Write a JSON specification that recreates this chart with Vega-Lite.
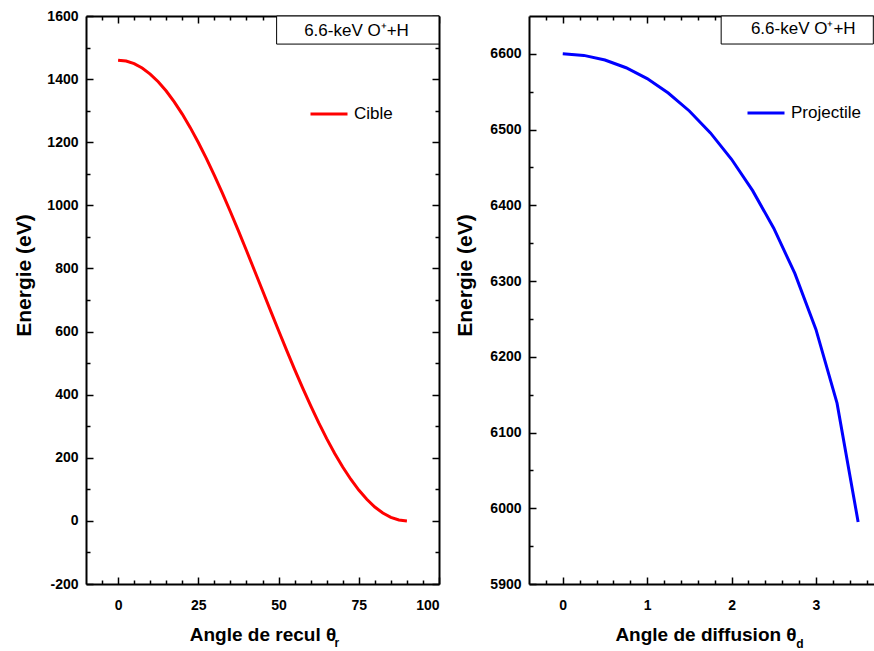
{
  "$schema": "https://vega.github.io/schema/vega-lite/v6.json",
  "padding": {"left": 13, "top": 9, "right": 0, "bottom": 0},
  "spacing": 90,
  "bounds": "flush",
  "background": "white",
  "config": {
    "view": {"stroke": null},
    "font": "Liberation Sans",
    "axis": {
      "grid": false,
      "domainColor": "black",
      "domainWidth": 2,
      "tickColor": "black",
      "tickWidth": 1.5,
      "labelFont": "Liberation Sans",
      "labelFontWeight": "bold",
      "labelFontSize": 14,
      "labelColor": "black",
      "titleFont": "Liberation Sans",
      "titleFontWeight": "bold",
      "titleFontSize": 19,
      "titleColor": "black"
    }
  },
  "datasets": {
    "cible": [
      {"angle": 0, "energie": 1460.0, "serie": "Cible"},
      {"angle": 2.5, "energie": 1457.2, "serie": "Cible"},
      {"angle": 5, "energie": 1448.9, "serie": "Cible"},
      {"angle": 7.5, "energie": 1435.1, "serie": "Cible"},
      {"angle": 10, "energie": 1416.0, "serie": "Cible"},
      {"angle": 12.5, "energie": 1391.6, "serie": "Cible"},
      {"angle": 15, "energie": 1362.2, "serie": "Cible"},
      {"angle": 17.5, "energie": 1328.0, "serie": "Cible"},
      {"angle": 20, "energie": 1289.2, "serie": "Cible"},
      {"angle": 22.5, "energie": 1246.2, "serie": "Cible"},
      {"angle": 25, "energie": 1199.2, "serie": "Cible"},
      {"angle": 27.5, "energie": 1148.7, "serie": "Cible"},
      {"angle": 30, "energie": 1095.0, "serie": "Cible"},
      {"angle": 32.5, "energie": 1038.5, "serie": "Cible"},
      {"angle": 35, "energie": 979.7, "serie": "Cible"},
      {"angle": 37.5, "energie": 918.9, "serie": "Cible"},
      {"angle": 40, "energie": 856.8, "serie": "Cible"},
      {"angle": 42.5, "energie": 793.6, "serie": "Cible"},
      {"angle": 45, "energie": 730.0, "serie": "Cible"},
      {"angle": 47.5, "energie": 666.4, "serie": "Cible"},
      {"angle": 50, "energie": 603.2, "serie": "Cible"},
      {"angle": 52.5, "energie": 541.1, "serie": "Cible"},
      {"angle": 55, "energie": 480.3, "serie": "Cible"},
      {"angle": 57.5, "energie": 421.5, "serie": "Cible"},
      {"angle": 60, "energie": 365.0, "serie": "Cible"},
      {"angle": 62.5, "energie": 311.3, "serie": "Cible"},
      {"angle": 65, "energie": 260.8, "serie": "Cible"},
      {"angle": 67.5, "energie": 213.8, "serie": "Cible"},
      {"angle": 70, "energie": 170.8, "serie": "Cible"},
      {"angle": 72.5, "energie": 132.0, "serie": "Cible"},
      {"angle": 75, "energie": 97.8, "serie": "Cible"},
      {"angle": 77.5, "energie": 68.4, "serie": "Cible"},
      {"angle": 80, "energie": 44.0, "serie": "Cible"},
      {"angle": 82.5, "energie": 24.9, "serie": "Cible"},
      {"angle": 85, "energie": 11.1, "serie": "Cible"},
      {"angle": 87.5, "energie": 2.8, "serie": "Cible"},
      {"angle": 90, "energie": 0.0, "serie": "Cible"}
    ],
    "projectile": [
      {"angle": 0, "energie": 6600.0, "serie": "Projectile"},
      {"angle": 0.25, "energie": 6598.0, "serie": "Projectile"},
      {"angle": 0.5, "energie": 6591.9, "serie": "Projectile"},
      {"angle": 0.75, "energie": 6581.7, "serie": "Projectile"},
      {"angle": 1.0, "energie": 6567.3, "serie": "Projectile"},
      {"angle": 1.25, "energie": 6548.3, "serie": "Projectile"},
      {"angle": 1.5, "energie": 6524.6, "serie": "Projectile"},
      {"angle": 1.75, "energie": 6495.6, "serie": "Projectile"},
      {"angle": 2.0, "energie": 6460.8, "serie": "Projectile"},
      {"angle": 2.25, "energie": 6419.4, "serie": "Projectile"},
      {"angle": 2.5, "energie": 6369.8, "serie": "Projectile"},
      {"angle": 2.75, "energie": 6310.1, "serie": "Projectile"},
      {"angle": 3.0, "energie": 6236.1, "serie": "Projectile"},
      {"angle": 3.25, "energie": 6138.8, "serie": "Projectile"},
      {"angle": 3.5, "energie": 5981.9, "serie": "Projectile"}
    ],
    "single": [{"n": 1}]
  },
  "resolve": {"scale": {"color": "independent"}, "legend": {"color": "independent"}},
  "hconcat": [
    {
      "width": 353,
      "height": 568,
      "data": {"name": "cible"},
      "resolve": {"axis": {"x": "independent", "y": "independent"}},
      "layer": [
        {
          "data": {"name": "single"},
          "mark": {"type": "rect", "fill": "white", "stroke": "black", "strokeWidth": 1},
          "encoding": {
            "x": {"datum": 49.4, "type": "quantitative", "scale": {"domain": [-10, 100], "nice": false, "zero": false}, "axis": null},
            "x2": {"datum": 100},
            "y": {"datum": 1511, "type": "quantitative", "scale": {"domain": [-200, 1600], "nice": false, "zero": false}, "axis": null},
            "y2": {"datum": 1600}
          }
        },
        {
          "data": {"name": "single"},
          "mark": {"type": "text", "text": "6.6-keV O⁺+H", "fontSize": 17, "font": "Liberation Sans", "align": "center", "baseline": "middle", "color": "black"},
          "encoding": {
            "x": {"datum": 74.3, "type": "quantitative", "scale": {"domain": [-10, 100], "nice": false, "zero": false}, "axis": null},
            "y": {"datum": 1552, "type": "quantitative", "scale": {"domain": [-200, 1600], "nice": false, "zero": false}, "axis": null}
          }
        },
        {
          "mark": {"type": "line", "strokeWidth": 3},
          "encoding": {
            "x": {"field": "angle", "type": "quantitative", "scale": {"domain": [-10, 100], "nice": false, "zero": false},
              "axis": {"orient": "bottom", "values": [0, 25, 50, 75, 100], "labelExpr": "'' + datum.value", "tickSize": -7, "labelPadding": 21, "title": "Angle de recul θ", "titlePadding": 13}},
            "y": {"field": "energie", "type": "quantitative", "scale": {"domain": [-200, 1600], "nice": false, "zero": false},
              "axis": {"orient": "left", "values": [-200, 0, 200, 400, 600, 800, 1000, 1200, 1400, 1600], "labelExpr": "'' + datum.value", "tickSize": -7, "labelPadding": 15, "title": "Energie (eV)", "titleFontSize": 21, "titlePadding": 12, "titleY": 259}},
            "color": {"field": "serie", "type": "nominal", "scale": {"domain": ["Cible"], "range": ["#ff0000"]},
              "legend": {"orient": "none", "legendX": 223, "legendY": 78, "title": null, "padding": 0, "symbolType": "stroke", "symbolStrokeWidth": 3, "symbolSize": 1369, "labelFontSize": 17, "labelFont": "Liberation Sans", "labelFontWeight": "normal", "labelColor": "black", "labelOffset": 5}}
          }
        },
        {
          "mark": {"type": "line", "opacity": 0},
          "encoding": {
            "x": {"field": "angle", "type": "quantitative", "scale": {"domain": [-10, 100], "nice": false, "zero": false},
              "axis": {"orient": "bottom", "values": [-5, 5, 10, 15, 20, 30, 35, 40, 45, 55, 60, 65, 70, 80, 85, 90, 95], "tickSize": -4, "labels": false, "domain": false, "title": null}},
            "y": {"field": "energie", "type": "quantitative", "scale": {"domain": [-200, 1600], "nice": false, "zero": false},
              "axis": {"orient": "left", "values": [-100, 100, 300, 500, 700, 900, 1100, 1300, 1500], "tickSize": -4, "labels": false, "domain": false, "title": null}}
          }
        },
        {
          "mark": {"type": "line", "opacity": 0},
          "encoding": {
            "x": {"field": "angle", "type": "quantitative", "scale": {"domain": [-10, 100], "nice": false, "zero": false},
              "axis": {"orient": "top", "values": [0, 25, 50, 75, 100], "tickSize": -7, "labels": false, "title": null}},
            "y": {"field": "energie", "type": "quantitative", "scale": {"domain": [-200, 1600], "nice": false, "zero": false},
              "axis": {"orient": "right", "values": [-200, 0, 200, 400, 600, 800, 1000, 1200, 1400, 1600], "tickSize": -7, "labels": false, "title": null}}
          }
        },
        {
          "mark": {"type": "line", "opacity": 0},
          "encoding": {
            "x": {"field": "angle", "type": "quantitative", "scale": {"domain": [-10, 100], "nice": false, "zero": false},
              "axis": {"orient": "top", "values": [-5, 5, 10, 15, 20, 30, 35, 40, 45, 55, 60, 65, 70, 80, 85, 90, 95], "tickSize": -4, "labels": false, "domain": false, "title": null}},
            "y": {"field": "energie", "type": "quantitative", "scale": {"domain": [-200, 1600], "nice": false, "zero": false},
              "axis": {"orient": "right", "values": [-100, 100, 300, 500, 700, 900, 1100, 1300, 1500], "tickSize": -4, "labels": false, "domain": false, "title": null}}
          }
        },
        {
          "data": {"name": "single"},
          "mark": {"type": "text", "text": "r", "fontSize": 12, "fontWeight": "bold", "font": "Liberation Sans", "align": "center", "baseline": "middle", "color": "black"},
          "encoding": {
            "x": {"datum": 68.2, "type": "quantitative", "scale": {"domain": [-10, 100], "nice": false, "zero": false}, "axis": null},
            "y": {"datum": -387, "type": "quantitative", "scale": {"domain": [-200, 1600], "nice": false, "zero": false}, "axis": null}
          }
        }
      ]
    },
    {
      "width": 345,
      "height": 568,
      "data": {"name": "projectile"},
      "resolve": {"axis": {"x": "independent", "y": "independent"}},
      "layer": [
        {
          "data": {"name": "single"},
          "mark": {"type": "rect", "fill": "white", "stroke": "black", "strokeWidth": 1},
          "encoding": {
            "x": {"datum": 1.877, "type": "quantitative", "scale": {"domain": [-0.4, 3.688], "nice": false, "zero": false}, "axis": null},
            "x2": {"datum": 3.68},
            "y": {"datum": 6613, "type": "quantitative", "scale": {"domain": [5900, 6650], "nice": false, "zero": false}, "axis": null},
            "y2": {"datum": 6650}
          }
        },
        {
          "data": {"name": "single"},
          "mark": {"type": "text", "text": "6.6-keV O⁺+H", "fontSize": 17, "font": "Liberation Sans", "align": "center", "baseline": "middle", "color": "black"},
          "encoding": {
            "x": {"datum": 2.85, "type": "quantitative", "scale": {"domain": [-0.4, 3.688], "nice": false, "zero": false}, "axis": null},
            "y": {"datum": 6633, "type": "quantitative", "scale": {"domain": [5900, 6650], "nice": false, "zero": false}, "axis": null}
          }
        },
        {
          "mark": {"type": "line", "strokeWidth": 3},
          "encoding": {
            "x": {"field": "angle", "type": "quantitative", "scale": {"domain": [-0.4, 3.688], "nice": false, "zero": false},
              "axis": {"orient": "bottom", "values": [0, 1, 2, 3], "labelExpr": "'' + datum.value", "tickSize": -7, "labelPadding": 21, "title": "Angle de diffusion θ", "titlePadding": 13, "titleX": 176.5}},
            "y": {"field": "energie", "type": "quantitative", "scale": {"domain": [5900, 6650], "nice": false, "zero": false},
              "axis": {"orient": "left", "values": [5900, 6000, 6100, 6200, 6300, 6400, 6500, 6600], "labelExpr": "'' + datum.value", "tickSize": -7, "labelPadding": 15, "title": "Energie (eV)", "titleFontSize": 21, "titlePadding": 14, "titleY": 259}},
            "color": {"field": "serie", "type": "nominal", "scale": {"domain": ["Projectile"], "range": ["#0000ff"]},
              "legend": {"orient": "none", "legendX": 217, "legendY": 77, "title": null, "padding": 0, "symbolType": "stroke", "symbolStrokeWidth": 3, "symbolSize": 1369, "labelFontSize": 17, "labelFont": "Liberation Sans", "labelFontWeight": "normal", "labelColor": "black", "labelOffset": 5}}
          }
        },
        {
          "mark": {"type": "line", "opacity": 0},
          "encoding": {
            "x": {"field": "angle", "type": "quantitative", "scale": {"domain": [-0.4, 3.688], "nice": false, "zero": false},
              "axis": {"orient": "bottom", "values": [-0.2, 0.2, 0.4, 0.6, 0.8, 1.2, 1.4, 1.6, 1.8, 2.2, 2.4, 2.6, 2.8, 3.2, 3.4, 3.6], "tickSize": -4, "labels": false, "domain": false, "title": null}},
            "y": {"field": "energie", "type": "quantitative", "scale": {"domain": [5900, 6650], "nice": false, "zero": false},
              "axis": {"orient": "left", "values": [5950, 6050, 6150, 6250, 6350, 6450, 6550], "tickSize": -4, "labels": false, "domain": false, "title": null}}
          }
        },
        {
          "mark": {"type": "line", "opacity": 0},
          "encoding": {
            "x": {"field": "angle", "type": "quantitative", "scale": {"domain": [-0.4, 3.688], "nice": false, "zero": false},
              "axis": {"orient": "top", "values": [0, 1, 2, 3], "tickSize": -7, "labels": false, "title": null}}
          }
        },
        {
          "mark": {"type": "line", "opacity": 0},
          "encoding": {
            "x": {"field": "angle", "type": "quantitative", "scale": {"domain": [-0.4, 3.688], "nice": false, "zero": false},
              "axis": {"orient": "top", "values": [-0.2, 0.2, 0.4, 0.6, 0.8, 1.2, 1.4, 1.6, 1.8, 2.2, 2.4, 2.6, 2.8, 3.2, 3.4, 3.6], "tickSize": -4, "labels": false, "domain": false, "title": null}}
          }
        },
        {
          "data": {"name": "single"},
          "mark": {"type": "text", "text": "d", "fontSize": 12, "fontWeight": "bold", "font": "Liberation Sans", "align": "center", "baseline": "middle", "color": "black"},
          "encoding": {
            "x": {"datum": 2.811, "type": "quantitative", "scale": {"domain": [-0.4, 3.688], "nice": false, "zero": false}, "axis": null},
            "y": {"datum": 5821, "type": "quantitative", "scale": {"domain": [5900, 6650], "nice": false, "zero": false}, "axis": null}
          }
        }
      ]
    }
  ]
}
